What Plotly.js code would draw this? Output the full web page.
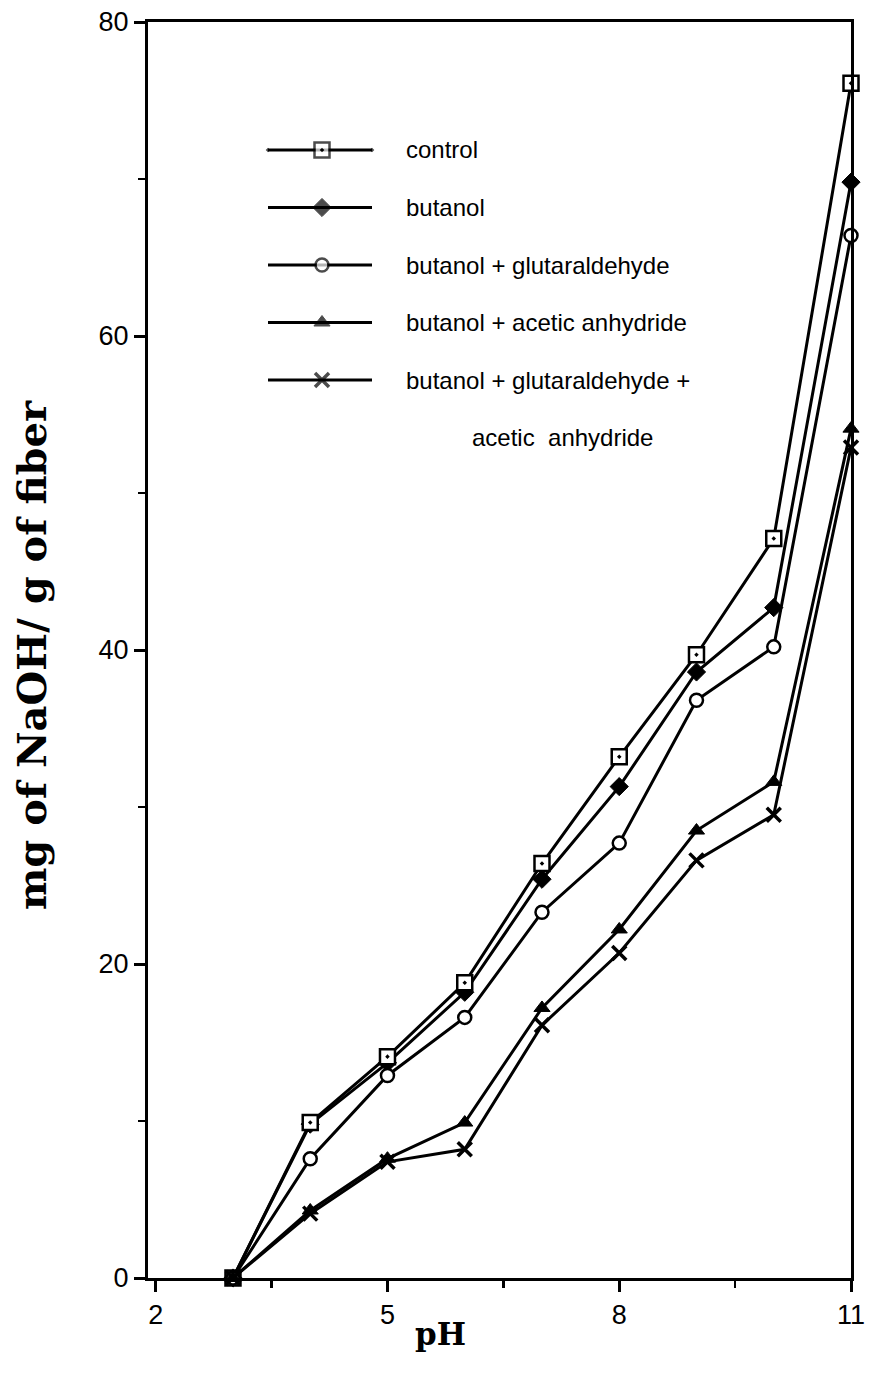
<!DOCTYPE html>
<html><head><meta charset="utf-8">
<script src="https://cdn.plot.ly/plotly-3.0.1.min.js"></script>
<style>body{margin:0;background:#fff}#chart{width:875px;height:1375px}</style>
</head><body><div id="chart"></div>
<script>
// ---- data ----
const pH = [3, 4, 5, 6, 7, 8, 9, 10, 11];
const control = [0, 9.9, 14.1, 18.8, 26.4, 33.2, 39.7, 47.1, 76.1];
const butanol = [0, 9.8, 13.7, 18.2, 25.4, 31.3, 38.6, 42.7, 69.8];
const butGlut = [0, 7.6, 12.9, 16.6, 23.3, 27.7, 36.8, 40.2, 66.4];
const butAcet = [0, 4.3, 7.6, 9.9, 17.2, 22.2, 28.5, 31.6, 54.1];
const butGlutAcet = [0, 4.1, 7.4, 8.2, 16.1, 20.7, 26.6, 29.5, 52.9];
const seriesNames = ['control', 'butanol', 'butanol + glutaraldehyde', 'butanol + acetic anhydride', 'butanol + glutaraldehyde +'];
const seriesNameCont = 'acetic  anhydride';
const xTickVals = [2, 5, 8, 11];
const xMinorVals = [3.5, 6.5, 9.5];
const yTickVals = [0, 20, 40, 60, 80];
const yMinorVals = [10, 30, 50, 70];
const xTitle = 'pH';
const yTitle = 'mg of NaOH/ g of fiber';

// ---- layout geometry (pixels) ----
const W = 875, H = 1375;
const L = 148, R = 851, T = 22, B = 1278;
const px = v => (v - L) / (R - L);
const py = v => (B - v) / (B - T);

const sans = 'Liberation Sans, Arial, sans-serif';
const serif = 'DejaVu Serif, Liberation Serif, serif';

const markers = [
  {symbol: 'square-dot', size: 15, color: '#fff', line: {color: '#000', width: 2.5}},
  {symbol: 'diamond', size: 14, color: '#000', line: {color: '#000', width: 1}},
  {symbol: 'circle', size: 13, color: '#fff', line: {color: '#000', width: 2.5}},
  {symbol: 'triangle-up', size: 14, color: '#000', line: {color: '#000', width: 1}},
  {symbol: 'x-thin-open', size: 14, color: '#000', line: {color: '#000', width: 3.5}}
];
const ys = [control, butanol, butGlut, butAcet, butGlutAcet];
const drawOrder = [1, 0, 2, 3, 4];

const traces = drawOrder.map(i => ({
  type: 'scatter', mode: 'lines+markers', x: pH, y: ys[i], name: seriesNames[i],
  line: {color: '#000', width: 3}, marker: markers[i], cliponaxis: false, showlegend: false
}));

// legend keys drawn on an overlay axis measured in pixels
const legX0 = 268, legX1 = 372, legXm = 322, legTop = 150, legStep = 57.5;
seriesNames.forEach((n, i) => {
  const yy = legTop + i * legStep;
  traces.push({
    type: 'scatter', mode: 'lines+markers', xaxis: 'x2', yaxis: 'y2',
    x: [legX0, legXm, legX1], y: [yy, yy, yy], showlegend: false, hoverinfo: 'skip',
    line: {color: '#000', width: 3},
    marker: Object.assign({}, markers[i], {size: [0, markers[i].size, 0]}), cliponaxis: false
  });
});

const legFont = {family: sans, size: 24, color: '#000'};
const annotations = seriesNames.map((n, i) => ({
  xref: 'paper', yref: 'paper', x: px(404), y: py(legTop + i * legStep),
  xanchor: 'left', yanchor: 'middle', text: n, showarrow: false, font: legFont
}));
annotations.push({
  xref: 'paper', yref: 'paper', x: px(562), y: py(legTop + 5 * legStep),
  xanchor: 'center', yanchor: 'middle', text: seriesNameCont, showarrow: false, font: legFont
});
annotations.push({
  xref: 'paper', yref: 'paper', x: px(440), y: py(1334), xanchor: 'center', yanchor: 'middle',
  text: '<b>' + xTitle + '</b>', showarrow: false, font: {family: serif, size: 31, color: '#000'}
});
annotations.push({
  xref: 'paper', yref: 'paper', x: px(31), y: py(655), xanchor: 'center', yanchor: 'middle',
  text: '<b>' + yTitle + '</b>', textangle: -90, showarrow: false, font: {family: serif, size: 40, color: '#000'}
});

const axisCommon = {
  showgrid: false, zeroline: false, showline: true, mirror: true, linecolor: '#000', linewidth: 3,
  ticks: 'outside', ticklen: 11, tickwidth: 3, tickcolor: '#000',
  tickfont: {family: sans, size: 27, color: '#000'}
};

const layout = {
  width: W, height: H,
  margin: {l: L, r: W - R, t: T, b: H - B, pad: 0},
  paper_bgcolor: '#fff', plot_bgcolor: '#fff',
  showlegend: false,
  xaxis: Object.assign({}, axisCommon, {
    range: [1.9, 11], tickvals: xTickVals, ticktext: xTickVals.map(String),
    minor: {tickvals: xMinorVals, ticks: 'outside', ticklen: 7, tickwidth: 2.5, tickcolor: '#000', showgrid: false}
  }),
  yaxis: Object.assign({}, axisCommon, {
    range: [0, 80], tickvals: yTickVals, ticktext: yTickVals.map(String),
    minor: {tickvals: yMinorVals, ticks: 'outside', ticklen: 7, tickwidth: 2.5, tickcolor: '#000', showgrid: false}
  }),
  xaxis2: {overlaying: 'x', range: [L, R], visible: false, fixedrange: true},
  yaxis2: {overlaying: 'y', range: [B, T], visible: false, fixedrange: true},
  annotations: annotations
};

Plotly.newPlot('chart', traces, layout, {staticPlot: true, displayModeBar: false});
</script>
</body></html>
